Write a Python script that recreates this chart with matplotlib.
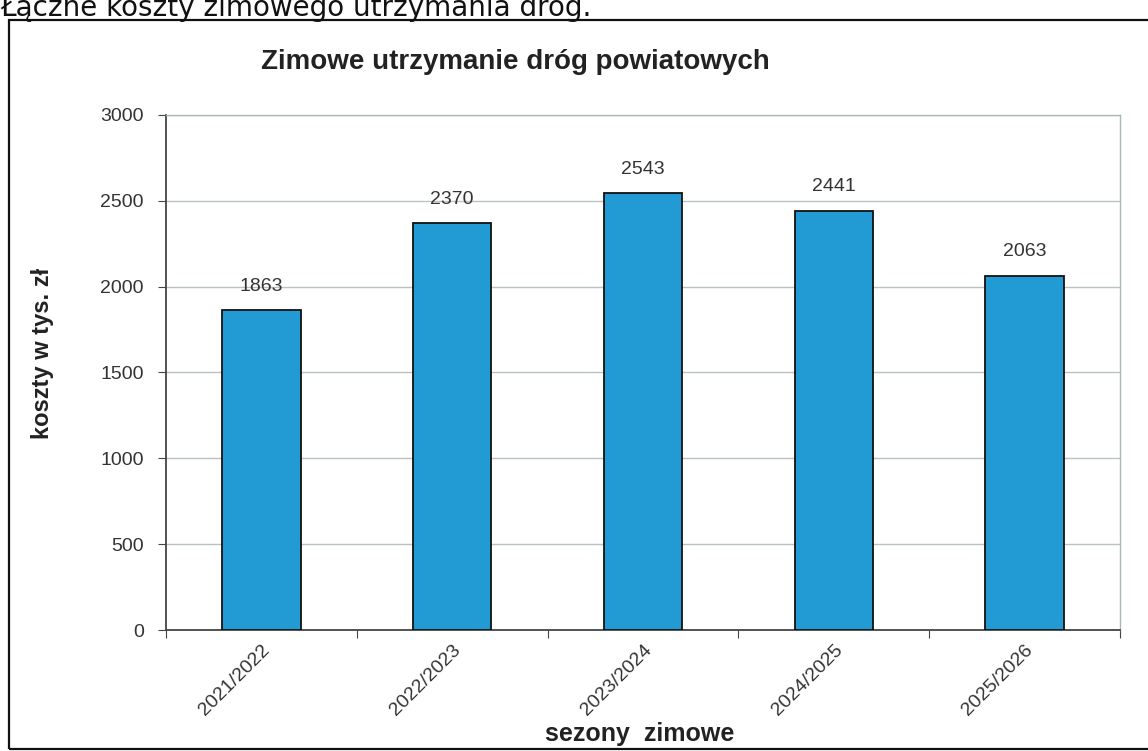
import matplotlib.pyplot as plt
from matplotlib.patches import Rectangle

seasons = ['2021/2022', '2022/2023', '2023/2024', '2024/2025', '2025/2026']
costs = [1863, 2370, 2543, 2441, 2063]
yticks = [0, 500, 1000, 1500, 2000, 2500, 3000]

plt.rcParams['font.family'] = ['Liberation Sans', 'DejaVu Sans']

fig = plt.figure(figsize=(11.48, 7.51), dpi=100)
ax = fig.add_axes([0.1446, 0.161, 0.831, 0.686])

xs = list(range(len(seasons)))
ax.bar(xs, costs, width=0.41, color='#229ad4', edgecolor='#111111', linewidth=1.3, zorder=3)
for x, v in zip(xs, costs):
    ax.text(x, v + 90, str(v), ha='center', va='bottom', fontsize=14, color='#333333', zorder=4)

ax.set_xlim(-0.5, len(seasons) - 0.5)
ax.set_ylim(0, 3000)
ax.set_yticks(yticks)
ax.set_yticklabels([str(t) for t in yticks], fontsize=14, color='#333333')
ax.yaxis.grid(True, color='#b8c4c4', linewidth=1, zorder=0)

# category ticks between bars, labels at bar centres
ax.set_xticks([x - 0.5 for x in xs] + [len(seasons) - 0.5])
ax.set_xticklabels([])
ax.set_xticks(xs, minor=True)
ax.set_xticklabels(seasons, minor=True, rotation=45, ha='right', rotation_mode='anchor',
                   fontsize=14, color='#333333')
ax.tick_params(axis='x', which='minor', length=0, pad=8)
ax.tick_params(axis='x', which='major', length=6, color='#444444')
ax.tick_params(axis='y', length=6, color='#444444', pad=10)

for s in ['left', 'bottom']:
    ax.spines[s].set_color('#444444')
    ax.spines[s].set_linewidth(1.3)
for s in ['top', 'right']:
    ax.spines[s].set_color('#a9b8b8')
    ax.spines[s].set_linewidth(1)

fig.text(0.037, 0.529, 'koszty w tys. zł', rotation=90, ha='center', va='center',
         fontsize=17, fontweight='bold', color='#222222')
fig.text(0.557, 0.022, 'sezony  zimowe', ha='center', va='center', fontsize=18, fontweight='bold', color='#222222')
fig.text(0.449, 0.918, 'Zimowe utrzymanie dróg powiatowych', ha='center', va='center',
         fontsize=20, fontweight='bold', color='#222222')

# scanned-page context: caption cut off at top and the chart frame
fig.text(0.0, 0.99, 'Łączne koszty zimowego utrzymania dróg.', ha='left', va='center',
         fontsize=20, color='#111111', family=['DejaVu Sans'])
fig.add_artist(Rectangle((0.008, 0.003), 1.0, 0.97, transform=fig.transFigure,
                         fill=False, edgecolor='#111111', linewidth=1.6))

fig.savefig('out.png', dpi=100)
